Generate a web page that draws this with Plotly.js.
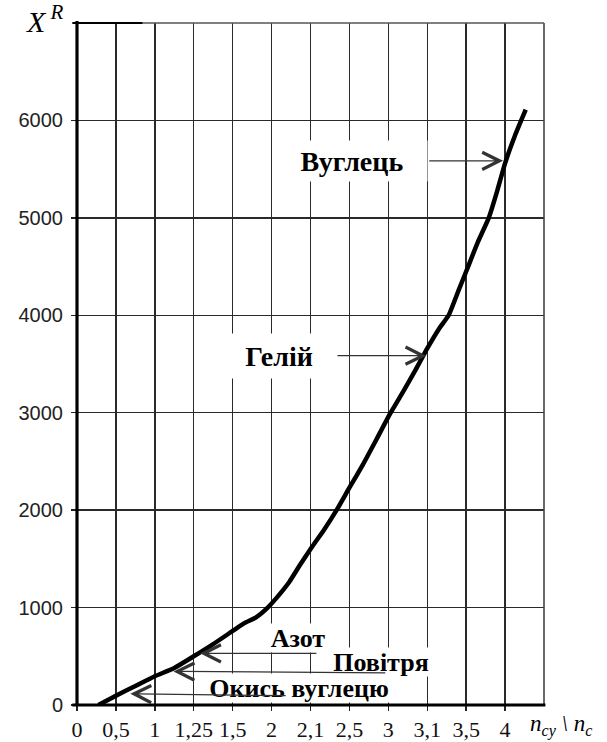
<!DOCTYPE html>
<html>
<head>
<meta charset="utf-8">
<script src="https://cdn.plot.ly/plotly-3.0.1.min.js"></script>
<style>html,body{margin:0;padding:0;background:#fff;}</style>
</head>
<body>
<div id="chart" style="width:607px;height:742px;"></div>
<script>
// Tick labels of the (non-uniform) horizontal scale, one per grid column
const tickLabels = ['0', '0,5', '1', '1,25', '1,5', '2', '2,1', '2,5', '3', '3,1', '3,5', '4'];
const tickPos = [0, 1, 2, 3, 4, 5, 6, 7, 8, 9, 10, 11];
const yTicks = [0, 1000, 2000, 3000, 4000, 5000, 6000];

// Curve X^R, position measured along the grid columns
const curveX = [0.55, 1.0, 1.5, 2.0, 2.5, 3.0, 3.5, 4.0, 4.3, 4.6, 4.9, 5.15, 5.45, 5.75, 6.05, 6.35, 6.67, 7.0, 7.35, 7.7, 8.06, 8.4, 8.7, 9.0, 9.3, 9.55, 9.8, 10.05, 10.3, 10.58, 10.8, 11.0, 11.25, 11.53];
const curveY = [0, 95, 195, 295, 380, 500, 625, 760, 840, 900, 1000, 1110, 1260, 1450, 1630, 1800, 2000, 2230, 2470, 2730, 3000, 3230, 3440, 3660, 3860, 4000, 4250, 4500, 4750, 5000, 5280, 5560, 5840, 6110];

// Gas labels
const gasNames = ['Вуглець', 'Гелій', 'Азот', 'Повітря', 'Окись вуглецю'];

const trace = {
  x: curveX, y: curveY, type: 'scatter', mode: 'lines',
  line: {color: '#000', width: 4.5, shape: 'spline', smoothing: 0.5},
  hoverinfo: 'skip'
};

const serif = 'Liberation Serif, Times New Roman, serif';
function label(text, x, y, w, h, size) {
  return {text: '<b>' + text + '</b>', x: x, y: y, xref: 'x', yref: 'y', showarrow: false,
    font: {family: serif, size: size, color: '#000'}, bgcolor: '#fff', width: w, height: h,
    xanchor: 'center', yanchor: 'middle', borderpad: 0};
}
// label whose arrow runs from its box to the curve
function pointer(text, tx, ty, w, h, size, x, y) {
  return {text: '<b>' + text + '</b>', x: x, y: y, ax: tx, ay: ty, xref: 'x', yref: 'y', axref: 'x', ayref: 'y',
    font: {family: serif, size: size, color: '#000'}, bgcolor: '#fff', width: w, height: h, borderpad: 0,
    showarrow: true, arrowhead: 5, arrowsize: 2.6, arrowwidth: 1.3, arrowcolor: '#333', standoff: 0, startstandoff: 2};
}
function arrow(x, y, ax, ay) {
  return {text: '', x: x, y: y, ax: ax, ay: ay, xref: 'x', yref: 'y', axref: 'x', ayref: 'y',
    showarrow: true, arrowhead: 5, arrowsize: 2.6, arrowwidth: 1.3, arrowcolor: '#333', standoff: 0, startstandoff: 0};
}

const annotations = [
  pointer(gasNames[0], 7.06, 5585, 150, 40, 28, 10.95, 5585),
  pointer(gasNames[1], 5.19, 3585, 112, 44, 28, 8.98, 3585),
  label(gasNames[4], 5.71, 178, 206, 28, 26),
  label(gasNames[3], 7.82, 440, 114, 28, 26),
  label(gasNames[2], 5.68, 690, 74, 28, 26),
  arrow(3.16, 530, 6.19, 530),
  arrow(2.48, 345, 7.96, 330),
  arrow(1.37, 115, 5.40, 95),
  {text: '<i>X</i><sup> <i>R</i></sup>', xref: 'paper', yref: 'paper', x: -0.068, y: 1.006,
    xanchor: 'center', yanchor: 'middle', showarrow: false,
    font: {family: serif, size: 30, color: '#000'}},
  {text: '<i>n<sub>cy</sub> \\ n<sub>c</sub></i>', xref: 'paper', yref: 'paper', x: 1.036, y: -0.03,
    xanchor: 'center', yanchor: 'middle', showarrow: false,
    font: {family: serif, size: 23, color: '#000'}}
];

const shapes = [
  {type: 'line', xref: 'paper', yref: 'paper', x0: 1, x1: 1, y0: 0, y1: 1, line: {color: '#444', width: 1.6}},
  {type: 'line', xref: 'paper', yref: 'paper', x0: 0, x1: 1, y0: 1, y1: 1, line: {color: '#555', width: 1.6}},
  {type: 'line', xref: 'paper', yref: 'paper', x0: -0.01, x1: 0.14, y0: 1, y1: 1, line: {color: '#000', width: 2.2}},
  {type: 'line', xref: 'paper', yref: 'paper', x0: 0, x1: 0, y0: 0, y1: 1.003, line: {color: '#000', width: 3.2}},
  {type: 'line', xref: 'paper', yref: 'paper', x0: -0.01, x1: 1.003, y0: 0, y1: 0, line: {color: '#000', width: 3.2}}
];

const layout = {
  width: 607, height: 742,
  margin: {l: 77, r: 63, t: 23, b: 37, pad: 0},
  paper_bgcolor: '#fff', plot_bgcolor: '#fff',
  showlegend: false,
  xaxis: {
    range: [0, 12], tickmode: 'array', tickvals: tickPos, ticktext: tickLabels,
    showgrid: true, gridcolor: '#2a2a2a', gridwidth: 1.4, zeroline: false, showline: false,
    ticks: 'outside', ticklen: 5, tickwidth: 1.4, tickcolor: '#222',
    tickfont: {family: serif, size: 22, color: '#111'},
    fixedrange: true
  },
  yaxis: {
    range: [0, 7000], tickmode: 'array', tickvals: yTicks,
    showgrid: true, gridcolor: '#2a2a2a', gridwidth: 1.4, zeroline: false, showline: false,
    ticks: 'outside', ticklen: 5, tickwidth: 1.4, tickcolor: '#222', ticklabelstandoff: 4,
    tickfont: {family: 'Liberation Sans, Arial, sans-serif', size: 20, color: '#222'},
    fixedrange: true
  },
  annotations: annotations,
  shapes: shapes
};

Plotly.newPlot('chart', [trace], layout, {staticPlot: true, displayModeBar: false});
</script>
</body>
</html>
